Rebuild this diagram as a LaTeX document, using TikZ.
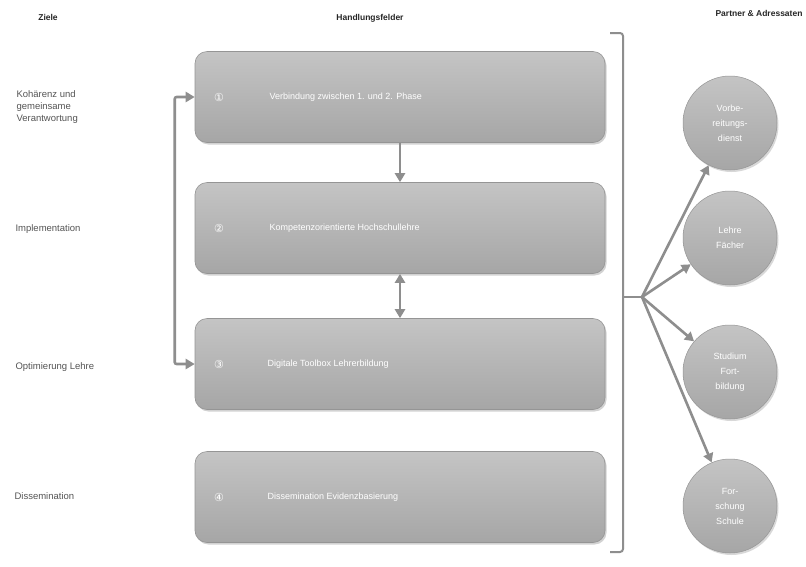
\documentclass[tikz,border=0pt]{standalone}
\usepackage{fontspec}
\setmainfont{Liberation Sans}
\newfontfamily\symfont{DejaVu Sans}
\usetikzlibrary{arrows.meta,shadows,calc}
\definecolor{arrgray}{HTML}{8E8E8E}
\definecolor{boxtop}{HTML}{C4C4C4}
\definecolor{boxbot}{HTML}{A6A6A6}
\definecolor{txtgray}{HTML}{555555}
\tikzset{
  fieldbox/.style={draw=boxbot!90!black, line width=0.6pt, rounded corners=12pt, top color=boxtop, bottom color=boxbot,
    minimum width=410pt, minimum height=91pt, drop shadow={shadow xshift=1.5pt, shadow yshift=-2pt, opacity=0.35}},
  boxnum/.style={text=white, font=\symfont\fontsize{11}{12}\selectfont},
  boxtxt/.style={text=white, font=\fontsize{9}{10}\selectfont, anchor=west},
  partner/.style={circle, minimum size=94pt, inner sep=0pt, top color=boxtop, bottom color=boxbot, draw=boxbot!90!black, line width=0.5pt,
    text=white, align=center, font=\fontsize{9}{15}\selectfont, drop shadow={shadow xshift=1.5pt, shadow yshift=-2pt, opacity=0.3}},
  goal/.style={anchor=west, align=left, text=txtgray, font=\fontsize{9.5}{12}\selectfont},
  head/.style={text=black!85, font=\bfseries\fontsize{8.5}{10}\selectfont},
  arr/.style={draw=arrgray, line width=2.6pt, -{Triangle[length=9pt,width=10pt]}},
  dblarr/.style={draw=arrgray, line width=2.6pt, {Triangle[length=9pt,width=10pt]}-{Triangle[length=9pt,width=10pt]}},
  brk/.style={draw=arrgray, line width=2pt, rounded corners=3pt}
}
\begin{document}
\begin{tikzpicture}[x=1pt,y=-1pt]
\useasboundingbox (0,0) rectangle (806,566);
\fill[white] (0,0) rectangle (806,566);
% headers
\node[head] (hz) at (48,17) {Ziele};
\node[head] (hh) at (370,18) {Handlungsfelder};
\node[head, anchor=east] (hp) at (806,13) {Partner \& Adressaten};
% goals
\node[goal] (g1) at (13,107) {Kohärenz und\\gemeinsame\\Verantwortung};
\node[goal] (g2) at (12,229) {Implementation};
\node[goal] (g3) at (12,367) {Optimierung Lehre};
\node[goal] (g4) at (11,496) {Dissemination};
% boxes
\node[fieldbox] (b1) at (400,97) {};
\node[fieldbox] (b2) at (400,228) {};
\node[fieldbox] (b3) at (400,364) {};
\node[fieldbox] (b4) at (400,497) {};
\node[boxnum] (n1) at (219,97) {①};
\node[boxnum] (n2) at (219,228) {②};
\node[boxnum] (n3) at (219,364) {③};
\node[boxnum] (n4) at (219,497) {④};
\node[boxtxt] (t1) at (266,97) {Verbindung zwischen 1. und 2. Phase};
\node[boxtxt] (t2) at (266,228) {Kompetenzorientierte Hochschullehre};
\node[boxtxt] (t3) at (264,364) {Digitale Toolbox Lehrerbildung};
\node[boxtxt] (t4) at (264,497) {Dissemination Evidenzbasierung};
% vertical arrows
\draw[arr] (b1.south) -- (b2.north);
\draw[dblarr] (b2.south) -- (b3.north);
% left bracket arrow
\draw[dblarr, rounded corners=2pt] (b1.west) -- ++(-20,0) |- (b3.west);
% right bracket
\coordinate (bt) at (623,33);
\coordinate (bb) at (623,552);
\draw[brk] ($(bt)+(-13,0)$) -- (bt) -- (bb) -- ($(bb)+(-13,0)$);
\coordinate (hubin) at (623,297);
\coordinate (hub) at (642,297);
\draw[draw=arrgray, line width=2.6pt] (hubin) -- (hub);
% partners
\node[partner] (p1) at (730,123) {Vorbe-\\reitungs-\\dienst};
\node[partner] (p2) at (730,238) {Lehre\\Fächer};
\node[partner] (p3) at (730,372) {Studium\\Fort-\\bildung};
\node[partner] (p4) at (730,506) {For-\\schung\\Schule};
\draw[arr] (hub) -- (p1);
\draw[arr] (hub) -- (p2);
\draw[arr] (hub) -- (p3);
\draw[arr] (hub) -- (p4);
\end{tikzpicture}
\end{document}
